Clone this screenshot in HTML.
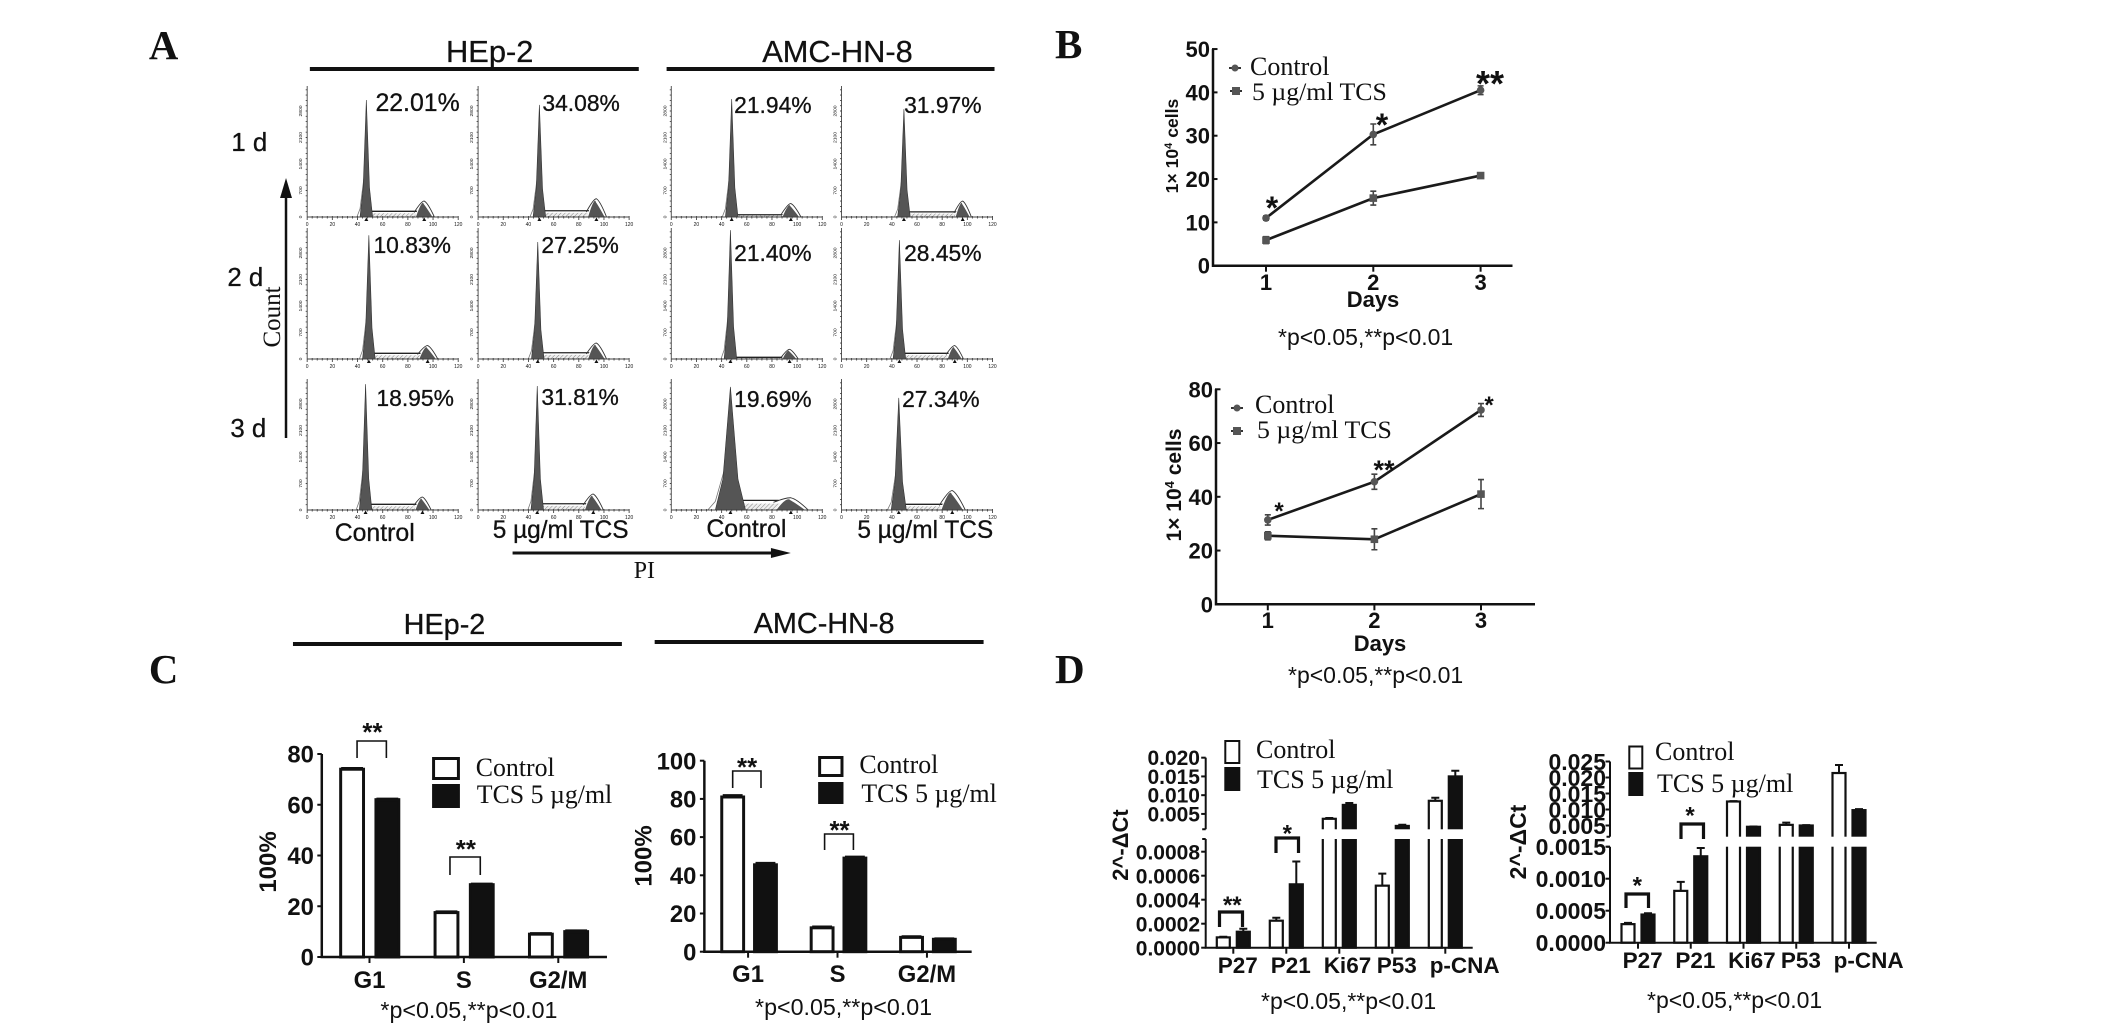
<!DOCTYPE html>
<html lang="en">
<head>
<meta charset="utf-8">
<title>Cell cycle and proliferation figure</title>
<style>
html,body{margin:0;padding:0;background:#fff;width:2126px;height:1031px;overflow:hidden}
svg{display:block}
text{fill:#111}
.s{font-family:"Liberation Sans",sans-serif}
.h{font-family:"Liberation Sans",sans-serif;stroke:#111;stroke-width:.3}
.b{font-family:"Liberation Sans",sans-serif;font-weight:bold}
.t{font-family:"Liberation Serif",serif}
.tb{font-family:"Liberation Serif",serif;font-weight:bold}
</style>
</head>
<body>
<svg id="figure" xmlns="http://www.w3.org/2000/svg" width="2126" height="1031" viewBox="0 0 2126 1031">
<defs>
<pattern id="hatch" width="3" height="3" patternUnits="userSpaceOnUse" patternTransform="rotate(45)">
<rect width="3" height="3" fill="#eee"/>
<line x1="0" y1="0" x2="0" y2="3" stroke="#666" stroke-width="0.8"/>
</pattern>
</defs>
<rect width="2126" height="1031" fill="#fff"/>
<g id="marks-left" transform="translate(130 0) scale(0.9937 1) translate(-130 0)"></g>
<g id="marks-right"></g>

<g transform="translate(130 0) scale(0.9937 1) translate(-130 0)">
<text class="tb" x="149" y="59" font-size="41">A</text>
<text class="h" x="492" y="62" font-size="31" text-anchor="middle">HEp-2</text>
<text class="h" x="842" y="62" font-size="31" text-anchor="middle">AMC-HN-8</text>
<rect x="311" y="67" width="331" height="4" fill="#111"/>
<rect x="670" y="67" width="330" height="4" fill="#111"/>
<text class="h" x="232" y="151" font-size="26">1 d</text>
<text class="h" x="228" y="286" font-size="26">2 d</text>
<text class="h" x="231" y="437" font-size="26">3 d</text>
<path d="M287 438V195" stroke="#111" stroke-width="2.5" fill="none"/>
<path d="M287 178L293 198H281Z" fill="#111"/>
<text class="t" transform="rotate(-90 281 317)" x="281" y="317" font-size="25" text-anchor="middle">Count</text>
<text class="h" x="377" y="111" font-size="25">22.01%</text>
<text class="h" x="545" y="111" font-size="23">34.08%</text>
<text class="h" x="738" y="113" font-size="23">21.94%</text>
<text class="h" x="909" y="113" font-size="23">31.97%</text>
<text class="h" x="375" y="253" font-size="23">10.83%</text>
<text class="h" x="544" y="253" font-size="23">27.25%</text>
<text class="h" x="738" y="261" font-size="23">21.40%</text>
<text class="h" x="909" y="261" font-size="23">28.45%</text>
<text class="h" x="378" y="406" font-size="23">18.95%</text>
<text class="h" x="544" y="405" font-size="23">31.81%</text>
<text class="h" x="738" y="407" font-size="23">19.69%</text>
<text class="h" x="907" y="407" font-size="23">27.34%</text>
<text class="h" x="336" y="541" font-size="25">Control</text>
<text class="h" x="495" y="538" font-size="24.6">5 µg/ml TCS</text>
<text class="h" x="710" y="537" font-size="25">Control</text>
<text class="h" x="862" y="538" font-size="24.6">5 µg/ml TCS</text>
<path d="M515 553H780" stroke="#111" stroke-width="3" fill="none"/>
<path d="M795 553L775 548V558Z" fill="#111"/>
<text class="t" x="637" y="578" font-size="24">PI</text>
</g>

<g>
<text class="tb" x="1055" y="58" font-size="41">B</text>
<path d="M1229 68H1241" stroke="#333" stroke-width="2"/>
<circle cx="1235" cy="68" r="3.5" fill="#555"/>
<text class="t" x="1250" y="75" font-size="26">Control</text>
<path d="M1230 91H1242" stroke="#333" stroke-width="2"/>
<rect x="1232" y="87" width="8" height="8" fill="#555"/>
<text class="t" x="1252" y="100" font-size="25.8">5 µg/ml TCS</text>
<text class="b" x="1272" y="219" font-size="32" text-anchor="middle">*</text>
<text class="b" x="1382" y="136" font-size="32" text-anchor="middle">*</text>
<text class="b" x="1490" y="96" font-size="36" text-anchor="middle">**</text>
<text class="b" x="1373" y="307" font-size="22" text-anchor="middle">Days</text>
<text class="b" transform="rotate(-90 1178 146)" x="1178" y="146" font-size="17.6" text-anchor="middle">1× 10<tspan font-size="11" dy="-6">4</tspan><tspan dy="6"> cells</tspan></text>
<text class="s" x="1278" y="345" font-size="23">*p&lt;0.05,**p&lt;0.01</text>

<path d="M1231 408H1243" stroke="#333" stroke-width="2"/>
<circle cx="1237" cy="408" r="3.5" fill="#555"/>
<text class="t" x="1255" y="413" font-size="26">Control</text>
<path d="M1231 431H1243" stroke="#333" stroke-width="2"/>
<rect x="1233" y="427" width="8" height="8" fill="#555"/>
<text class="t" x="1257" y="438" font-size="25.8">5 µg/ml TCS</text>
<text class="b" x="1279" y="519" font-size="24" text-anchor="middle">*</text>
<text class="b" x="1384" y="479" font-size="27" text-anchor="middle">**</text>
<text class="b" x="1489" y="413" font-size="24" text-anchor="middle">*</text>
<text class="b" x="1380" y="651" font-size="22" text-anchor="middle">Days</text>
<text class="b" transform="rotate(-90 1181 485)" x="1181" y="485" font-size="21" text-anchor="middle">1× 10<tspan font-size="13" dy="-7">4</tspan><tspan dy="7"> cells</tspan></text>
<text class="s" x="1288" y="683" font-size="23">*p&lt;0.05,**p&lt;0.01</text>
</g>

<g transform="translate(130 0) scale(0.9937 1) translate(-130 0)">
<text class="tb" x="149" y="683" font-size="41">C</text>
<text class="h" x="446.5" y="634" font-size="29" text-anchor="middle">HEp-2</text>
<text class="h" x="828.5" y="633" font-size="29" text-anchor="middle">AMC-HN-8</text>
<rect x="294" y="642" width="331" height="4" fill="#111"/>
<rect x="658" y="640" width="331" height="4" fill="#111"/>
<text class="b" transform="rotate(-90 277 862)" x="277" y="862" font-size="24" text-anchor="middle">100%</text>
<text class="b" transform="rotate(-90 655 856)" x="655" y="856" font-size="24" text-anchor="middle">100%</text>
<path d="M358.5 758V741H388V758" fill="none" stroke="#111" stroke-width="1.6"/>
<text class="b" x="374" y="741" font-size="26" text-anchor="middle">**</text>
<path d="M452 875V857H482.5V875" fill="none" stroke="#111" stroke-width="1.6"/>
<text class="b" x="468" y="858" font-size="26" text-anchor="middle">**</text>
<path d="M736.5 788V771H765V788" fill="none" stroke="#111" stroke-width="1.6"/>
<text class="b" x="751" y="776" font-size="26" text-anchor="middle">**</text>
<path d="M829 850V834H858V850" fill="none" stroke="#111" stroke-width="1.6"/>
<text class="b" x="844" y="839" font-size="26" text-anchor="middle">**</text>
<rect x="435.5" y="758.5" width="25" height="20" fill="#fff" stroke="#111" stroke-width="3"/>
<rect x="434" y="784" width="28" height="24" fill="#111"/>
<text class="t" x="478" y="776" font-size="26">Control</text>
<text class="t" x="479" y="803" font-size="26">TCS 5 µg/ml</text>
<rect x="824" y="757.5" width="22.5" height="18" fill="#fff" stroke="#111" stroke-width="3"/>
<rect x="822.5" y="782" width="25.5" height="22" fill="#111"/>
<text class="t" x="864" y="773" font-size="26">Control</text>
<text class="t" x="866" y="802" font-size="26">TCS 5 µg/ml</text>
<text class="s" x="382" y="1018" font-size="23.4">*p&lt;0.05,**p&lt;0.01</text>
<text class="s" x="759" y="1015" font-size="23.4">*p&lt;0.05,**p&lt;0.01</text>
</g>

<g>
<text class="tb" x="1055" y="683" font-size="41">D</text>
<text class="b" transform="rotate(-90 1128 845)" x="1128" y="845" font-size="22" text-anchor="middle">2^-ΔCt</text>
<text class="b" transform="rotate(-90 1526 842)" x="1526" y="842" font-size="23" text-anchor="middle">2^-ΔCt</text>
<rect x="1225.3" y="741" width="14" height="22" fill="#fff" stroke="#111" stroke-width="2"/>
<rect x="1224.3" y="767" width="16" height="24" fill="#111"/>
<text class="t" x="1256" y="758" font-size="26">Control</text>
<text class="t" x="1257" y="788" font-size="26">TCS 5 µg/ml</text>
<rect x="1629.3" y="746.5" width="13" height="22" fill="#fff" stroke="#111" stroke-width="2"/>
<rect x="1628.3" y="772" width="15" height="24" fill="#111"/>
<text class="t" x="1655" y="760" font-size="26">Control</text>
<text class="t" x="1657" y="792" font-size="26">TCS 5 µg/ml</text>
<path d="M1219.5 927V912H1242.5V927" fill="none" stroke="#111" stroke-width="3.2"/>
<text class="b" x="1232.3" y="913" font-size="24" text-anchor="middle">**</text>
<path d="M1276 853V838H1298.5V853" fill="none" stroke="#111" stroke-width="3.2"/>
<text class="b" x="1287.3" y="841.5" font-size="24" text-anchor="middle">*</text>
<path d="M1626 908V894H1648.5V908" fill="none" stroke="#111" stroke-width="3.2"/>
<text class="b" x="1637.3" y="893.5" font-size="24" text-anchor="middle">*</text>
<path d="M1681 839V824H1703.5V839" fill="none" stroke="#111" stroke-width="3.2"/>
<text class="b" x="1690" y="823.5" font-size="24" text-anchor="middle">*</text>
<text class="s" x="1261" y="1009" font-size="23">*p&lt;0.05,**p&lt;0.01</text>
<text class="s" x="1647" y="1008" font-size="23">*p&lt;0.05,**p&lt;0.01</text>
</g>
</svg>

<script>
// ---------- Panel A: flow cytometry histograms (row by row, HEp-2 then AMC-HN-8) ----------
const histXTicks = [0, 20, 40, 60, 80, 100, 120];
const histYTicks = [0, 700, 1400, 2100, 2800];
const g1Position = [47, 48.7, 48, 49.6, 49, 47.4, 47, 46, 46.4, 47, 47, 45.5];
const g1Count = [3090, 2960, 3115, 2850, 3270, 3090, 3405, 3140, 3325, 3275, 3250, 2960];
const g1Spread = [5, 5, 5, 5, 5, 5, 5, 5, 5, 5, 12, 6];
const g2Position = [93, 94, 95, 96.3, 95.7, 94, 94, 90, 91.6, 91.5, 95, 88];
const g2Count = [345, 395, 290, 345, 290, 345, 210, 290, 280, 345, 265, 420];
const g2Spread = [7, 7, 7, 6, 7, 7, 6, 6, 6, 7, 12, 9];
const sPhaseCount = [100, 110, 40, 90, 100, 110, 30, 100, 100, 110, 170, 100];

// ---------- Panel B: growth curves ----------
const bDays = [1, 2, 3];
const b1YTicks = [0, 10, 20, 30, 40, 50];
const b1Control = [11, 30.3, 40.5];
const b1ControlErr = [0.5, 2.4, 1];
const b1Tcs = [5.9, 15.6, 20.8];
const b1TcsErr = [0.8, 1.6, 0.3];
const b2YTicks = [0, 20, 40, 60, 80];
const b2Control = [31.4, 45.6, 72.3];
const b2ControlErr = [1.9, 2.8, 2.4];
const b2Tcs = [25.5, 24.2, 41];
const b2TcsErr = [1.5, 3.9, 5.4];

// ---------- Panel C: cell-cycle distribution ----------
const cCategories = ['G1', 'S', 'G2/M'];
const c1YTicks = ['0', '20', '40', '60', '80'];
const c1Control = [74, 17.5, 9];
const c1ControlErr = [0.5, 0.5, 0.4];
const c1Tcs = [62, 28.5, 10];
const c1TcsErr = [0.4, 0.4, 0.5];
const c2YTicks = ['0', '20', '40', '60', '80', '100'];
const c2Control = [81, 12.5, 7.5];
const c2ControlErr = [1, 0.7, 0.6];
const c2Tcs = [45.5, 49, 6.5];
const c2TcsErr = [1, 0.8, 0.5];

// ---------- Panel D: qPCR with broken axes ----------
const dGenes = ['P27', 'P21', 'Ki67', 'P53', 'p-CNA'];
const d1LowTicks = ['0.0000', '0.0002', '0.0004', '0.0006', '0.0008'];
const d1HighTicks = ['0.005', '0.010', '0.015', '0.020'];
const d1Control = [0.000086, 0.000225, 0.0037, 0.000517, 0.0085];
const d1ControlErr = [0.000005, 0.000025, 0.0002, 0.0001, 0.0008];
const d1Tcs = [0.000133, 0.000528, 0.0074, 0.0018, 0.015];
const d1TcsErr = [0.000025, 0.00019, 0.0005, 0.0003, 0.0015];
const d2LowTicks = ['0.0000', '0.0005', '0.0010', '0.0015'];
const d2HighTicks = ['0.005', '0.010', '0.015', '0.020', '0.025'];
const d2Control = [0.00029, 0.00081, 0.0125, 0.0052, 0.0214];
const d2ControlErr = [0.00002, 0.00014, 0.0001, 0.0007, 0.0025];
const d2Tcs = [0.00044, 0.00135, 0.0046, 0.005, 0.0098];
const d2TcsErr = [0.00002, 0.00013, 0.0001, 0.0001, 0.0003];

const NS = 'http://www.w3.org/2000/svg';
const marksLeft = document.getElementById('marks-left');
const marksRight = document.getElementById('marks-right');
let marks = marksLeft;

function mk(tag, attrs, parent) {
  const node = document.createElementNS(NS, tag);
  for (const k in attrs) node.setAttribute(k, attrs[k]);
  (parent || marks).appendChild(node);
  return node;
}

function drawHistogram(i, left, baseY) {
  const px = v => left + v * 152 / 120;
  const py = c => baseY - c * 0.03786;
  const g = mk('g', {});
  
  

  const sPoly = mk('polygon', {
    points: px(g1Position[i] + g1Spread[i] * 0.8) + ',' + baseY + ' ' +
      px(g1Position[i] + g1Spread[i] * 0.8) + ',' + py(sPhaseCount[i]) + ' ' +
      px(g2Position[i] - g2Spread[i] * 0.6) + ',' + py(sPhaseCount[i]) + ' ' +
      px(g2Position[i] - g2Spread[i] * 0.6) + ',' + baseY,
    fill: 'url(#hatch)', stroke: 'none'
  }, g);
  
  

  const sTop = mk('path', {
    d: 'M' + px(g1Position[i] + g1Spread[i] * 0.7) + ' ' + py(sPhaseCount[i] * 1.5) + 'H' + px(g2Position[i] - g2Spread[i] * 0.8),
    fill: 'none', stroke: '#222', 'stroke-width': 1.3
  }, g);
  
  

  const g2Peak = mk('path', {
    d: 'M' + px(g2Position[i] - g2Spread[i]) + ' ' + baseY +
      'Q' + px(g2Position[i] - g2Spread[i] * 0.25) + ' ' + py(g2Count[i] * 1.5) + ' ' + px(g2Position[i]) + ' ' + py(g2Count[i]) +
      'Q' + px(g2Position[i] + g2Spread[i] * 0.25) + ' ' + py(g2Count[i] * 0.8) + ' ' + px(g2Position[i] + g2Spread[i]) + ' ' + baseY + 'Z',
    fill: '#555', stroke: '#fff', 'stroke-width': 1
  }, g);
  
  

  const g2Outline = mk('path', {
    d: 'M' + px(g2Position[i] - g2Spread[i] * 1.15) + ' ' + py(sPhaseCount[i] * 1.2) +
      'Q' + px(g2Position[i] - g2Spread[i] * 0.3) + ' ' + py(g2Count[i] * 1.25) + ' ' + px(g2Position[i]) + ' ' + py(g2Count[i] * 1.22) +
      'Q' + px(g2Position[i] + g2Spread[i] * 0.4) + ' ' + py(g2Count[i] * 1.1) + ' ' + px(g2Position[i] + g2Spread[i] * 1.15) + ' ' + baseY,
    fill: 'none', stroke: '#333', 'stroke-width': 0.9
  }, g);
  
  

  const g1Shoulder = mk('polyline', {
    points: px(g1Position[i] - g1Spread[i] * 1.5) + ',' + baseY + ' ' +
      px(g1Position[i] - g1Spread[i]) + ',' + py(g1Count[i] * 0.07) + ' ' +
      px(g1Position[i]) + ',' + py(g1Count[i] * 0.5),
    fill: 'none', stroke: '#777', 'stroke-width': 0.8
  }, g);
  
  

  const g1Peak = mk('polygon', {
    points: px(g1Position[i] - g1Spread[i]) + ',' + baseY + ' ' +
      px(g1Position[i] - g1Spread[i] * 0.5) + ',' + py(g1Count[i] * 0.25) + ' ' +
      px(g1Position[i]) + ',' + py(g1Count[i]) + ' ' +
      px(g1Position[i] + g1Spread[i] * 0.5) + ',' + py(g1Count[i] * 0.25) + ' ' +
      px(g1Position[i] + g1Spread[i]) + ',' + baseY,
    fill: '#555', stroke: '#333', 'stroke-width': 0.6
  }, g);
  
  

  let d = 'M' + left + ' ' + baseY + 'H' + px(120) + 'M' + left + ' ' + baseY + 'V' + (baseY - 131);
  for (let v = 0; v <= 120; v += 4) d += 'M' + px(v) + ' ' + (baseY - 1) + 'V' + (baseY + (v % 20 === 0 ? 3 : 1.5));
  for (let c = 140; c < 3450; c += 140) d += 'M' + (left - 1.5) + ' ' + py(c) + 'H' + (left + 0.5);
  const axes = mk('path', { d: d, fill: 'none', stroke: '#444', 'stroke-width': 0.9 }, g);
  
  

  histXTicks.forEach(t => {
    const lab = mk('text', { x: px(t), y: baseY + 9, 'font-size': 5, 'text-anchor': 'middle', class: 's' }, g);
    lab.textContent = t;
    
    
  });
  histYTicks.forEach(t => {
    const lab = mk('text', { x: left - 5, y: py(t), 'font-size': 5, 'text-anchor': 'middle', class: 's', transform: 'rotate(-90 ' + (left - 5) + ' ' + py(t) + ')' }, g);
    lab.textContent = t;
    
    
  });
  [g1Position[i], g2Position[i]].forEach(p => {
    const tri = mk('polygon', { points: (px(p) - 2) + ',' + (baseY + 4) + ' ' + px(p) + ',' + (baseY + 0.5) + ' ' + (px(p) + 2) + ',' + (baseY + 4), fill: '#111' }, g);
    
    
  });
}

// Histogram panels: index, left edge, baseline
drawHistogram(0, 308.3, 217);
drawHistogram(1, 480.3, 217);
drawHistogram(2, 674.7, 217);
drawHistogram(3, 846, 217);
drawHistogram(4, 308.3, 359);
drawHistogram(5, 480.3, 359);
drawHistogram(6, 674.7, 359);
drawHistogram(7, 846, 359);
drawHistogram(8, 308.3, 510);
drawHistogram(9, 480.3, 510);
drawHistogram(10, 674.7, 510);
drawHistogram(11, 846, 510);

function drawLineChart(o) {
  const g = mk('g', {});
  
  
  const xOf = day => o.day1X + (day - 1) * o.dayStep;
  const yOf = v => o.baseY - v * o.pxPerUnit;

  const axis = mk('path', {
    d: 'M' + o.axisX + ' ' + yOf(o.yTicks[o.yTicks.length - 1]) + 'V' + o.baseY + 'H' + o.xEnd,
    fill: 'none', stroke: '#111', 'stroke-width': 2.5
  }, g);
  
  

  o.yTicks.forEach(t => {
    const tick = mk('path', { d: 'M' + (o.axisX - 1) + ' ' + yOf(t) + 'H' + (o.axisX + 4.5), stroke: '#111', 'stroke-width': 2 }, g);
    
    
    const lab = mk('text', { x: o.axisX - 3, y: yOf(t) + 8, 'font-size': 22, 'text-anchor': 'end', class: 'b' }, g);
    lab.textContent = t;
    
    
  });
  bDays.forEach(d => {
    const tick = mk('path', { d: 'M' + xOf(d) + ' ' + o.baseY + 'v6', stroke: '#111', 'stroke-width': 2 }, g);
    
    
    const lab = mk('text', { x: xOf(d), y: o.xLabelY, 'font-size': 22, 'text-anchor': 'middle', class: 'b' }, g);
    lab.textContent = d;
    
    
  });

  [['control', o.control, o.controlErr], ['tcs', o.tcs, o.tcsErr]].forEach(series => {
    const label = series[0], vals = series[1], errs = series[2];
    const line = mk('polyline', {
      points: vals.map((v, i) => xOf(bDays[i]) + ',' + yOf(v)).join(' '),
      fill: 'none', stroke: '#1a1a1a', 'stroke-width': 2.6
    }, g);
    
    
    vals.forEach((v, i) => {
      const x = xOf(bDays[i]);
      const err = mk('path', {
        d: 'M' + x + ' ' + yOf(v + errs[i]) + 'V' + yOf(v - errs[i]) +
          'M' + (x - 3) + ' ' + yOf(v + errs[i]) + 'h6M' + (x - 3) + ' ' + yOf(v - errs[i]) + 'h6',
        fill: 'none', stroke: '#444', 'stroke-width': 1.6
      }, g);
      
      
      let point;
      if (label === 'control') {
        point = mk('circle', { cx: x, cy: yOf(v), r: 3.8, fill: '#555' }, g);
      } else {
        point = mk('rect', { x: x - 3.8, y: yOf(v) - 3.8, width: 7.6, height: 7.6, fill: '#555' }, g);
      }
      
      
    });
  });
}

function drawBarChart(o) {
  const g = mk('g', {});
  
  
  const catX = i => o.cat0 + i * o.catStep;

  function bars(label, vals, errs, offset, fill) {
    vals.forEach((v, i) => {
      const cx = catX(i) + offset;
      const err = mk('path', {
        d: 'M' + cx + ' ' + o.yOf(v) + 'V' + o.yOf(v + errs[i]) + 'M' + (cx - o.capHalf) + ' ' + o.yOf(v + errs[i]) + 'h' + (o.capHalf * 2),
        fill: 'none', stroke: '#111', 'stroke-width': 2
      }, g);
      
      
      const bar = mk('rect', {
        x: cx - o.barW / 2, y: o.yOf(v), width: o.barW, height: o.baseY - o.yOf(v),
        fill: fill, stroke: '#111', 'stroke-width': o.stroke
      }, g);
      
      
    });
  }
  bars('control', o.control, o.controlErr, o.ctrlOff, '#fff');
  bars('tcs', o.tcs, o.tcsErr, o.tcsOff, '#111');

  if (o.gapTop !== undefined) {
    const gap = mk('rect', { x: o.axisX - 4, y: o.gapTop, width: o.xEnd - o.axisX + 4, height: o.gapBottom - o.gapTop, fill: '#fff' }, g);
    
    
    const upper = mk('path', { d: 'M' + o.axisX + ' ' + o.yOf(Number(o.highTicks[o.highTicks.length - 1])) + 'V' + o.gapTop, fill: 'none', stroke: '#111', 'stroke-width': 2 }, g);
    
    
    const capHigh = mk('path', { d: 'M' + (o.axisX - 3.5) + ' ' + o.gapTop + 'h3.5M' + (o.axisX - 3.5) + ' ' + o.gapBottom + 'h3.5', fill: 'none', stroke: '#111', 'stroke-width': 2 }, g);
    
    
  }

  const lowerTop = o.gapBottom !== undefined ? o.gapBottom : o.yOf(Number(o.lowTicks[o.lowTicks.length - 1]));
  const axis = mk('path', { d: 'M' + o.axisX + ' ' + lowerTop + 'V' + o.baseY + 'H' + o.xEnd, fill: 'none', stroke: '#111', 'stroke-width': o.axisStroke }, g);
  
  

  o.lowTicks.concat(o.highTicks || []).forEach(t => {
    const y = o.yOf(Number(t));
    const tick = mk('path', { d: 'M' + (o.axisX - 4.5) + ' ' + y + 'H' + o.axisX, stroke: '#111', 'stroke-width': 2 }, g);
    
    
    const lab = mk('text', { x: o.labelRight, y: y + o.tickFont * 0.36, 'font-size': o.tickFont, 'text-anchor': 'end', class: 'b' }, g);
    lab.textContent = t;
    
    
  });

  o.cats.forEach((c, i) => {
    const tick = mk('path', { d: 'M' + catX(i) + ' ' + o.baseY + 'v6', stroke: '#111', 'stroke-width': 2 }, g);
    
    
    const lab = mk('text', { x: catX(i) + o.labelOff, y: o.xLabelY, 'font-size': o.catFont, 'text-anchor': o.labelAnchor, class: 'b' }, g);
    lab.textContent = c;
    
    
  });
}

drawBarChart({
  name: 'cycle-chart-hep2', axisX: 323, xEnd: 610, baseY: 957, yOf: v => 957 - v * 2.5375,
  cats: cCategories, control: c1Control, controlErr: c1ControlErr, tcs: c1Tcs, tcsErr: c1TcsErr,
  cat0: 371, catStep: 95, ctrlOff: -17.5, tcsOff: 18, barW: 23, capHalf: 11, stroke: 3, axisStroke: 2.5,
  lowTicks: c1YTicks, labelRight: 315, tickFont: 24, catFont: 24, labelOff: 0, labelAnchor: 'middle', xLabelY: 988
});
drawBarChart({
  name: 'cycle-chart-amc', axisX: 708, xEnd: 977, baseY: 951.7, yOf: v => 951.7 - v * 1.91,
  cats: cCategories, control: c2Control, controlErr: c2ControlErr, tcs: c2Tcs, tcsErr: c2TcsErr,
  cat0: 752, catStep: 90, ctrlOff: -15.5, tcsOff: 17.5, barW: 22, capHalf: 10, stroke: 3, axisStroke: 2.5,
  lowTicks: c2YTicks, labelRight: 700, tickFont: 24, catFont: 24, labelOff: 0, labelAnchor: 'middle', xLabelY: 982
});

marks = marksRight;

drawLineChart({ name: 'growth-chart-hep2', axisX: 1213, xEnd: 1512.5, baseY: 265.7, pxPerUnit: 4.333, day1X: 1266, dayStep: 107.3, yTicks: b1YTicks, xLabelY: 290, control: b1Control, controlErr: b1ControlErr, tcs: b1Tcs, tcsErr: b1TcsErr });
drawLineChart({ name: 'growth-chart-amc', axisX: 1216, xEnd: 1535, baseY: 604.3, pxPerUnit: 2.6875, day1X: 1267.8, dayStep: 106.6, yTicks: b2YTicks, xLabelY: 628, control: b2Control, controlErr: b2ControlErr, tcs: b2Tcs, tcsErr: b2TcsErr });

function brokenScale(baseY, lowPx, breakValue, breakY, highPx) {
  return v => (v <= breakValue ? baseY - v * lowPx : breakY - (v - breakValue) * highPx);
}

drawBarChart({
  name: 'qpcr-chart-hep2', axisX: 1205.7, xEnd: 1472.7, baseY: 947.7,
  yOf: brokenScale(947.7, 120000, 0.0009, 829.3, 3750), gapTop: 829.3, gapBottom: 839,
  cats: dGenes, control: d1Control, controlErr: d1ControlErr, tcs: d1Tcs, tcsErr: d1TcsErr,
  cat0: 1233.3, catStep: 53, ctrlOff: -10, tcsOff: 10, barW: 13, capHalf: 4, stroke: 2.2, axisStroke: 2,
  lowTicks: d1LowTicks, highTicks: d1HighTicks, labelRight: 1200, tickFont: 21, catFont: 22.5, labelOff: -15.6, labelAnchor: 'start', xLabelY: 973
});
drawBarChart({
  name: 'qpcr-chart-amc', axisX: 1610, xEnd: 1876.7, baseY: 942.7,
  yOf: brokenScale(942.7, 64000, 0.0015, 836.7, 3200), gapTop: 836.7, gapBottom: 846.7,
  cats: dGenes, control: d2Control, controlErr: d2ControlErr, tcs: d2Tcs, tcsErr: d2TcsErr,
  cat0: 1638, catStep: 52.75, ctrlOff: -10, tcsOff: 10, barW: 13, capHalf: 4, stroke: 2.2, axisStroke: 2,
  lowTicks: d2LowTicks, highTicks: d2HighTicks, labelRight: 1606, tickFont: 23, catFont: 22.5, labelOff: -15.4, labelAnchor: 'start', xLabelY: 968
});
</script>
</body>
</html>
